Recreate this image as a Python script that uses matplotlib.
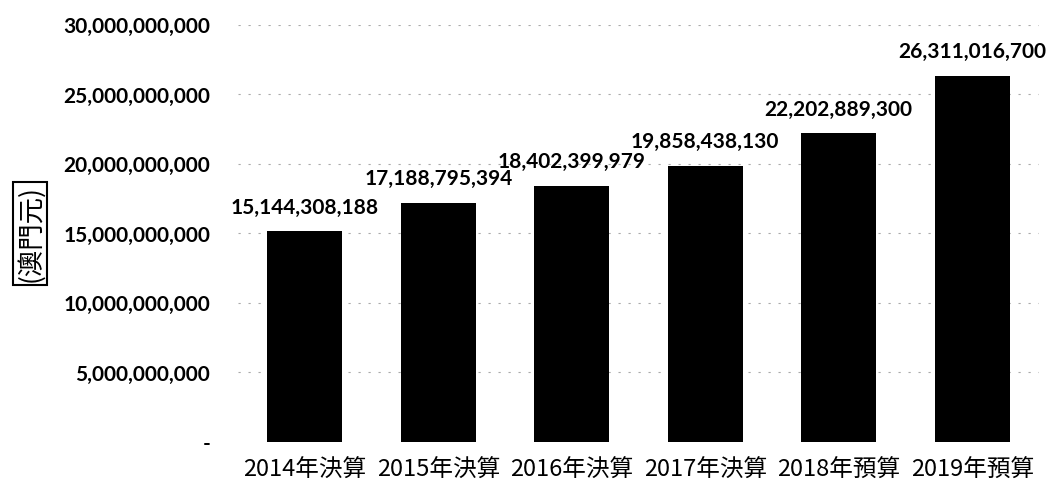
import matplotlib
matplotlib.use("Agg")
import matplotlib.pyplot as plt
from matplotlib.ticker import FuncFormatter

categories = ["2014年決算", "2015年決算", "2016年決算", "2017年決算", "2018年預算", "2019年預算"]
values = [15144308188, 17188795394, 18402399979, 19858438130, 22202889300, 26311016700]
yticks = [0, 5e9, 10e9, 15e9, 20e9, 25e9, 30e9]
ylabel = "(澳門元)"

fig = plt.figure(figsize=(10.51, 4.87), dpi=100)
ax = fig.add_axes([0.2265, 0.0924, 0.762, 0.8563])

x = list(range(len(categories)))
bars = ax.bar(x, values, width=0.56, color="black", zorder=3)

ax.set_xlim(-0.5, len(categories) - 0.5)
ax.set_ylim(0, 30e9)
ax.set_yticks(yticks)

def fmt(v, pos=None):
    if v == 0:
        return "-"
    return f"{int(round(v)):,}"

ax.yaxis.set_major_formatter(FuncFormatter(fmt))
for lab in ax.get_yticklabels():
    lab.set_fontfamily(["Lato", "DejaVu Sans"])
    lab.set_fontsize(15)
    lab.set_fontweight("bold")
ax.tick_params(axis="y", length=0, pad=20)
ax.tick_params(axis="x", length=0, pad=12)

ax.set_xticks(x)
ax.set_xticklabels(categories, fontfamily=["Noto Sans CJK TC", "DejaVu Sans"],
                   fontsize=17, fontweight="medium")

for t in yticks[1:]:
    ax.axhline(t, color="#aaaaaa", linestyle=(0, (2, 7)), linewidth=0.8, zorder=1)

for spine in ax.spines.values():
    spine.set_visible(False)

for xi, v in zip(x, values):
    ax.annotate(f"{v:,}", (xi, v), xytext=(0, 10), textcoords="offset points",
                ha="center", va="bottom", fontsize=15, fontweight="bold",
                fontfamily=["Lato", "DejaVu Sans"])

fig.text(0.0285, 0.521, ylabel, rotation=90, ha="center", va="center",
         fontsize=19, fontfamily=["Noto Sans CJK TC", "DejaVu Sans"],
         bbox=dict(boxstyle="square,pad=0.12", facecolor="white", edgecolor="black", linewidth=1.5))

fig.savefig("out.png", dpi=100)
